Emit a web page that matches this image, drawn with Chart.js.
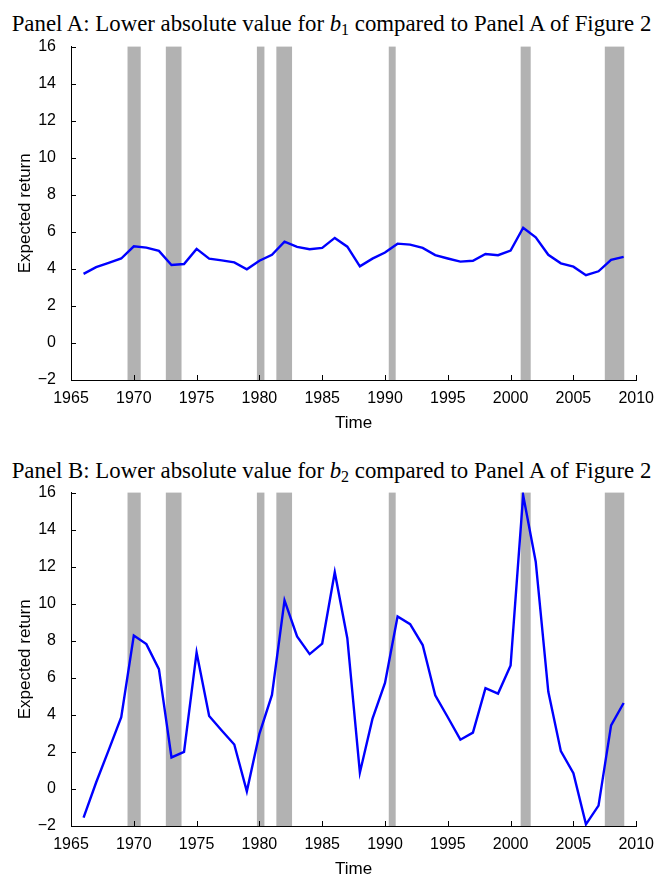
<!DOCTYPE html>
<html>
<head>
<meta charset="utf-8">
<script src="https://cdn.jsdelivr.net/npm/chart.js@4.4.1/dist/chart.umd.min.js"></script>
<style>
  html, body { margin: 0; padding: 0; background: #fff; }
  body { width: 655px; height: 878px; overflow: hidden; position: relative; }
  .panel-title {
    position: absolute; left: 4px; width: 655px; text-align: center;
    font-family: "Liberation Serif", "Times New Roman", serif; font-size: 20px;
    white-space: nowrap; line-height: 1; color: #000;
  }
  .panel-title span { display: inline-block; }
  .panel-title sub { font-size: 0.7em; vertical-align: -0.25em; line-height: 0; }
  canvas { position: absolute; left: 0; }
</style>
</head>
<body>
<div class="panel-title" id="title-a" style="top:13px"><span>Panel A: Lower absolute value for <i>b</i><sub>1</sub> compared to Panel A of Figure 2</span></div>
<canvas id="chart-a" width="655" height="410" style="top:30px"></canvas>
<div class="panel-title" id="title-b" style="top:460px"><span>Panel B: Lower absolute value for <i>b</i><sub>2</sub> compared to Panel A of Figure 2</span></div>
<canvas id="chart-b" width="655" height="410" style="top:476px"></canvas>
<script>
// --- Données ---
const years = [1966, 1967, 1968, 1969, 1970, 1971, 1972, 1973, 1974, 1975,
               1976, 1977, 1978, 1979, 1980, 1981, 1982, 1983, 1984, 1985,
               1986, 1987, 1988, 1989, 1990, 1991, 1992, 1993, 1994, 1995,
               1996, 1997, 1998, 1999, 2000, 2001, 2002, 2003, 2004, 2005,
               2006, 2007, 2008, 2009];

const panelAValues = [3.73, 4.09, 4.32, 4.56, 5.22, 5.15, 4.97, 4.21, 4.26, 5.08,
                      4.55, 4.46, 4.35, 3.98, 4.44, 4.76, 5.47, 5.19, 5.06, 5.13,
                      5.67, 5.20, 4.14, 4.55, 4.88, 5.36, 5.31, 5.13, 4.74, 4.56,
                      4.39, 4.44, 4.80, 4.74, 4.99, 6.22, 5.70, 4.76, 4.30, 4.12,
                      3.66, 3.87, 4.49, 4.65];

const panelBValues = [-1.55, 0.35, 2.10, 3.87, 8.28, 7.82, 6.47, 1.70, 2.00, 7.37,
                      3.94, 3.16, 2.40, -0.13, 2.98, 5.08, 10.18, 8.24, 7.28, 7.85,
                      11.70, 8.14, 0.88, 3.78, 5.72, 9.31, 8.90, 7.77, 5.06, 3.87,
                      2.66, 3.04, 5.44, 5.15, 6.67, 15.86, 12.27, 5.26, 2.04, 0.85,
                      -1.91, -0.90, 3.43, 4.64];

// Périodes de récession (bandes grises)
const recessionStart = [1969.5, 1972.55, 1979.8, 1981.35, 1990.3, 2000.8, 2007.5];
const recessionEnd   = [1970.55, 1973.8, 1980.4, 1982.6, 1990.85, 2001.6, 2009.05];

const X_MIN = 1965, X_MAX = 2010, X_STEP = 5;
const Y_MIN = -2, Y_MAX = 16, Y_STEP = 2;

const TICK_FONT = { family: '"Liberation Sans", Arial, sans-serif', size: 16 };
const LABEL_FONT = { family: '"Liberation Sans", Arial, sans-serif', size: 17 };

// --- Ajustement de la largeur des titres ---
function fitTitle(id, targetWidth) {
    const el = document.getElementById(id);
    const span = el.querySelector('span');
    const w = span.getBoundingClientRect().width;
    el.style.fontSize = (20 * targetWidth / w) + 'px';
}

// Bandes de récession, dessinées avant la courbe
const recessionPlugin = {
    id: 'recessions',
    beforeDatasetsDraw(chart) {
        const { ctx, chartArea, scales: { x } } = chart;
        ctx.save();
        ctx.fillStyle = '#b2b2b2';
        recessionStart.forEach((start, i) => {
            const x0 = x.getPixelForValue(start);
            const x1 = x.getPixelForValue(recessionEnd[i]);
            ctx.fillRect(x0, chartArea.top, x1 - x0, chartArea.bottom - chartArea.top);
        });
        ctx.restore();
    }
};

// Graduations tournées vers l'intérieur (style MATLAB)
const innerTicksPlugin = {
    id: 'innerTicks',
    afterDraw(chart) {
        const { ctx, chartArea, scales: { x, y } } = chart;
        const len = 5;
        ctx.save();
        ctx.strokeStyle = '#000';
        ctx.lineWidth = 1;
        ctx.beginPath();
        y.ticks.forEach(t => {
            const py = Math.round(y.getPixelForValue(t.value)) + 0.5;
            ctx.moveTo(chartArea.left, py);
            ctx.lineTo(chartArea.left + len, py);
        });
        x.ticks.forEach(t => {
            const px = Math.round(x.getPixelForValue(t.value)) + 0.5;
            ctx.moveTo(px, chartArea.bottom);
            ctx.lineTo(px, chartArea.bottom - len);
        });
        ctx.stroke();
        ctx.restore();
    }
};

function makeChart(canvasId, values) {
    const ctx = document.getElementById(canvasId).getContext('2d');
    return new Chart(ctx, {
        type: 'line',
        data: {
            datasets: [{
                data: years.map((yr, i) => ({ x: yr, y: values[i] })),
                borderColor: '#0000ff',
                borderWidth: 2.4,
                pointRadius: 0,
                tension: 0,
                fill: false
            }]
        },
        options: {
            responsive: false,
            animation: false,
            devicePixelRatio: 1,
            layout: { padding: { top: 13, right: 13, left: 0, bottom: 0 } },
            plugins: { legend: { display: false }, tooltip: { enabled: false } },
            scales: {
                x: {
                    type: 'linear',
                    min: X_MIN, max: X_MAX,
                    afterFit: s => { s.height = 60; },
                    grid: { display: false },
                    border: { display: true, color: '#000', width: 1 },
                    ticks: {
                        stepSize: X_STEP, color: '#000', font: TICK_FONT, padding: 1,
                        maxRotation: 0, callback: v => String(v)
                    },
                    title: { display: true, text: 'Time', color: '#000', font: LABEL_FONT, padding: { bottom: 6, top: 0 } }
                },
                y: {
                    min: Y_MIN, max: Y_MAX,
                    afterFit: s => { s.width = 71; },
                    grid: { display: false },
                    border: { display: true, color: '#000', width: 1 },
                    ticks: {
                        stepSize: Y_STEP, color: '#000', font: TICK_FONT, padding: 7,
                        callback: v => String(v).replace('-', '\u2212')
                    },
                    title: { display: true, text: 'Expected return', color: '#000', font: LABEL_FONT, padding: { top: 15, bottom: 0 } }
                }
            }
        },
        plugins: [recessionPlugin, innerTicksPlugin]
    });
}

fitTitle('title-a', 640);
fitTitle('title-b', 640);
makeChart('chart-a', panelAValues);
makeChart('chart-b', panelBValues);
</script>
</body>
</html>
